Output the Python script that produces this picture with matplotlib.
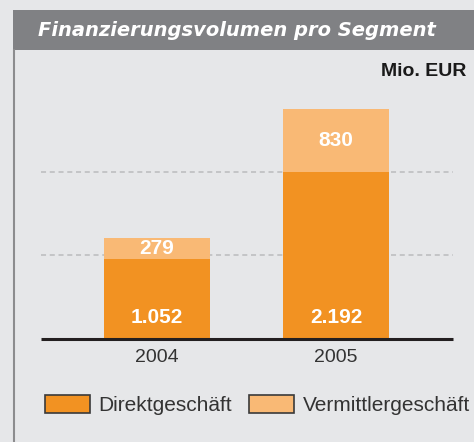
import matplotlib
matplotlib.use("Agg")
import matplotlib.pyplot as plt
from matplotlib.patches import Rectangle, Patch
from matplotlib.lines import Line2D
from matplotlib import font_manager as fm

years = ["2004", "2005"]
direkt = [1052, 2192]
vermittler = [279, 830]
direkt_labels = ["1.052", "2.192"]
vermittler_labels = ["279", "830"]
grid_values = [1100, 2200]
series_names = ["Direktgeschäft", "Vermittlergeschäft"]
title = "Finanzierungsvolumen pro Segment"
unit = "Mio. EUR"

names = {f.name for f in fm.fontManager.ttflist}
narrow = "Liberation Sans Narrow" if "Liberation Sans Narrow" in names else "Liberation Sans"

W, H = 474, 442
BG = "#e6e7e9"
ORANGE = "#f29222"
LIGHT = "#f9b975"

fig = plt.figure(figsize=(W / 100, H / 100), dpi=100, facecolor=BG)

def fx(px):
    return px / W

def fy(py):
    return 1 - py / H

# title band
fig.patches.append(Rectangle((fx(13), fy(50)), fx(474) - fx(13), fy(10) - fy(50),
                             transform=fig.transFigure, facecolor="#808184",
                             edgecolor="none", zorder=0))
fig.lines.append(Line2D([fx(14), fx(14)], [fy(50), fy(442)], transform=fig.transFigure,
                        color="#8c8c8e", lw=1.5))
fig.text(fx(38), fy(30), title, color="white", fontsize=14, fontweight="bold",
         fontstyle="italic", family=["DejaVu Sans"], va="center", ha="left")
fig.text(fx(466), fy(72), unit, color="#1a1a1a", fontsize=14, fontweight="bold",
         family=[narrow, "DejaVu Sans"], va="center", ha="right")

scale = 0.0762  # px per unit
base_px = 339.3
top_px = 87.8
ymax = (base_px - top_px) / scale
ax = fig.add_axes([fx(41), fy(base_px), fx(453) - fx(41), fy(top_px) - fy(base_px)])
ax.set_facecolor("none")
ax.set_ylim(0, ymax)
ax.set_xlim(-0.648, 1.654)

x = list(range(len(years)))
bw = 0.592
ax.bar(x, direkt, width=bw, color=ORANGE, zorder=2)
ax.bar(x, vermittler, width=bw, bottom=direkt, color=LIGHT, zorder=2)

for v in grid_values:
    ax.axhline(v, color="#c4c5c7", lw=1.4, ls=(0, (2.6, 1.9)), zorder=1)
ax.axhline(0, color="#231f20", lw=2.2, zorder=3, clip_on=False, solid_capstyle="butt")

for i in x:
    ax.annotate(direkt_labels[i], xy=(i, 0), xytext=(0, 16), textcoords="offset points",
                ha="center", va="center", color="white", fontsize=15, fontweight="bold",
                family=[narrow, "DejaVu Sans"], zorder=4)
    ax.text(i, direkt[i] + vermittler[i] / 2, vermittler_labels[i], ha="center", va="center",
            color="white", fontsize=15, fontweight="bold", family=[narrow, "DejaVu Sans"], zorder=4)

ax.set_xticks(x)
ax.set_xticklabels(years, fontsize=14, color="#333333", family=[narrow, "DejaVu Sans"])
ax.tick_params(axis="x", length=0, pad=7)
ax.set_yticks([])
for s in ax.spines.values():
    s.set_visible(False)

handles = [Patch(facecolor=ORANGE, edgecolor="#3a3a3a", lw=1.2),
           Patch(facecolor=LIGHT, edgecolor="#3a3a3a", lw=1.2)]
leg = fig.legend(handles, series_names, loc="center left", bbox_to_anchor=(fx(45), fy(405)),
                 ncol=2, frameon=False, borderpad=0, borderaxespad=0,
                 prop={"family": [narrow, "DejaVu Sans"], "size": 15},
                 handlelength=2.15, handleheight=1.0, handletextpad=0.4, columnspacing=0.85)
for t in leg.get_texts():
    t.set_color("#333333")

fig.savefig("out.png", dpi=100, facecolor=BG)
